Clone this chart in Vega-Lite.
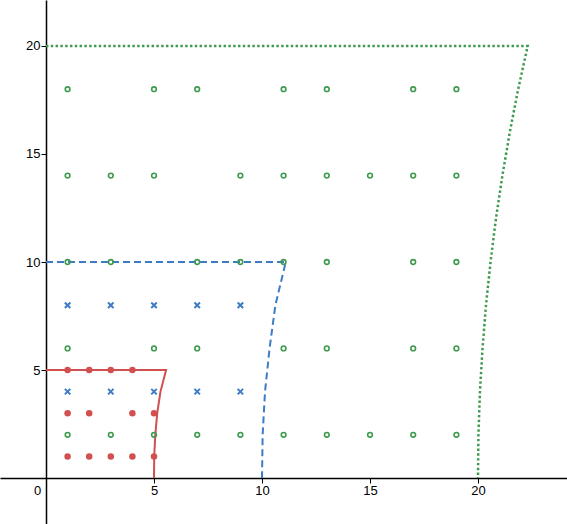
{
  "$schema": "https://vega.github.io/schema/vega-lite/v6.json",
  "width": 567,
  "height": 524,
  "padding": 0,
  "autosize": {"type": "none"},
  "config": {
    "view": {"stroke": null},
    "axis": {"grid": false, "domainColor": "#000", "domainWidth": 1.5, "tickColor": "#000", "tickWidth": 1, "tickSize": 5, "labelFont": "Liberation Sans", "labelFontSize": 13, "labelColor": "#000", "title": null}
  },
  "data": {"values": [
    {"k": "red", "x": 1, "y": 5}, {"k": "red", "x": 2, "y": 5}, {"k": "red", "x": 3, "y": 5}, {"k": "red", "x": 4, "y": 5},
    {"k": "red", "x": 1, "y": 3}, {"k": "red", "x": 2, "y": 3}, {"k": "red", "x": 4, "y": 3}, {"k": "red", "x": 5, "y": 3},
    {"k": "red", "x": 1, "y": 1}, {"k": "red", "x": 2, "y": 1}, {"k": "red", "x": 3, "y": 1}, {"k": "red", "x": 4, "y": 1}, {"k": "red", "x": 5, "y": 1},
    {"k": "blue", "x": 1, "y": 8}, {"k": "blue", "x": 3, "y": 8}, {"k": "blue", "x": 5, "y": 8}, {"k": "blue", "x": 7, "y": 8}, {"k": "blue", "x": 9, "y": 8},
    {"k": "blue", "x": 1, "y": 4}, {"k": "blue", "x": 3, "y": 4}, {"k": "blue", "x": 5, "y": 4}, {"k": "blue", "x": 7, "y": 4}, {"k": "blue", "x": 9, "y": 4},
    {"k": "green", "x": 1, "y": 18}, {"k": "green", "x": 5, "y": 18}, {"k": "green", "x": 7, "y": 18}, {"k": "green", "x": 11, "y": 18}, {"k": "green", "x": 13, "y": 18}, {"k": "green", "x": 17, "y": 18}, {"k": "green", "x": 19, "y": 18},
    {"k": "green", "x": 1, "y": 14}, {"k": "green", "x": 3, "y": 14}, {"k": "green", "x": 5, "y": 14}, {"k": "green", "x": 9, "y": 14}, {"k": "green", "x": 11, "y": 14}, {"k": "green", "x": 13, "y": 14}, {"k": "green", "x": 15, "y": 14}, {"k": "green", "x": 17, "y": 14}, {"k": "green", "x": 19, "y": 14},
    {"k": "green", "x": 1, "y": 10}, {"k": "green", "x": 3, "y": 10}, {"k": "green", "x": 7, "y": 10}, {"k": "green", "x": 9, "y": 10}, {"k": "green", "x": 11, "y": 10}, {"k": "green", "x": 13, "y": 10}, {"k": "green", "x": 17, "y": 10}, {"k": "green", "x": 19, "y": 10},
    {"k": "green", "x": 1, "y": 6}, {"k": "green", "x": 5, "y": 6}, {"k": "green", "x": 7, "y": 6}, {"k": "green", "x": 11, "y": 6}, {"k": "green", "x": 13, "y": 6}, {"k": "green", "x": 17, "y": 6}, {"k": "green", "x": 19, "y": 6},
    {"k": "green", "x": 1, "y": 2}, {"k": "green", "x": 3, "y": 2}, {"k": "green", "x": 5, "y": 2}, {"k": "green", "x": 7, "y": 2}, {"k": "green", "x": 9, "y": 2}, {"k": "green", "x": 11, "y": 2}, {"k": "green", "x": 13, "y": 2}, {"k": "green", "x": 15, "y": 2}, {"k": "green", "x": 17, "y": 2}, {"k": "green", "x": 19, "y": 2},
    {"k": "redline", "o": 0, "x": 0, "y": 5}, {"k": "redline", "o": 1, "x": 5.56, "y": 5}, {"k": "redline", "o": 2, "x": 5.3, "y": 4}, {"k": "redline", "o": 3, "x": 5.15, "y": 3}, {"k": "redline", "o": 4, "x": 5.06, "y": 2}, {"k": "redline", "o": 5, "x": 5.01, "y": 1}, {"k": "redline", "o": 6, "x": 5, "y": 0},
    {"k": "blueline", "o": 0, "x": 0, "y": 10}, {"k": "blueline", "o": 1, "x": 11.1, "y": 10}, {"k": "blueline", "o": 2, "x": 10.62, "y": 8}, {"k": "blueline", "o": 3, "x": 10.35, "y": 6}, {"k": "blueline", "o": 4, "x": 10.14, "y": 4}, {"k": "blueline", "o": 5, "x": 10.03, "y": 2}, {"k": "blueline", "o": 6, "x": 10, "y": 0},
    {"k": "greenline", "o": 0, "x": 0, "y": 20}, {"k": "greenline", "o": 1, "x": 22.3, "y": 20}, {"k": "greenline", "o": 2, "x": 21.86, "y": 18}, {"k": "greenline", "o": 3, "x": 21.47, "y": 16}, {"k": "greenline", "o": 4, "x": 21.13, "y": 14}, {"k": "greenline", "o": 5, "x": 20.83, "y": 12}, {"k": "greenline", "o": 6, "x": 20.58, "y": 10}, {"k": "greenline", "o": 7, "x": 20.37, "y": 8}, {"k": "greenline", "o": 8, "x": 20.21, "y": 6}, {"k": "greenline", "o": 9, "x": 20.09, "y": 4}, {"k": "greenline", "o": 10, "x": 20.02, "y": 2}, {"k": "greenline", "o": 11, "x": 20, "y": 0}
  ]},
  "encoding": {
    "x": {"field": "x", "type": "quantitative", "scale": {"domain": [-2.1296, 24.1204], "nice": false, "zero": false},
      "axis": {"values": [0, 5, 10, 15, 20], "offset": -46, "labelPadding": 1, "labelOffset": {"condition": {"test": "datum.value == 0", "value": -9}, "value": 0}}},
    "y": {"field": "y", "type": "quantitative", "scale": {"domain": [-2.1296, 22.1296], "nice": false, "zero": false},
      "axis": {"values": [5, 10, 15, 20], "offset": -46, "labelPadding": 1}}
  },
  "layer": [
    {"transform": [{"filter": "datum.k == 'redline'"}], "mark": {"type": "line", "color": "#d14f4f", "strokeWidth": 2}, "encoding": {"order": {"field": "o"}}},
    {"transform": [{"filter": "datum.k == 'blueline'"}], "mark": {"type": "line", "color": "#3d7cc4", "strokeWidth": 2, "strokeDash": [7, 4]}, "encoding": {"order": {"field": "o"}}},
    {"transform": [{"filter": "datum.k == 'greenline'"}], "mark": {"type": "line", "color": "#3e9a4e", "strokeWidth": 2.5, "strokeDash": [2.4, 2.4]}, "encoding": {"order": {"field": "o"}}},
    {"transform": [{"filter": "datum.k == 'red'"}], "mark": {"type": "point", "shape": "circle", "filled": true, "color": "#d14f4f", "opacity": 1, "size": 42}},
    {"transform": [{"filter": "datum.k == 'blue'"}], "mark": {"type": "point", "shape": "M-1,-1L1,1M-1,1L1,-1", "filled": false, "color": "#3d7cc4", "opacity": 1, "strokeWidth": 2, "size": 30}},
    {"transform": [{"filter": "datum.k == 'green'"}], "mark": {"type": "point", "shape": "circle", "filled": false, "color": "#3e9a4e", "opacity": 1, "strokeWidth": 1.6, "size": 22}}
  ]
}
